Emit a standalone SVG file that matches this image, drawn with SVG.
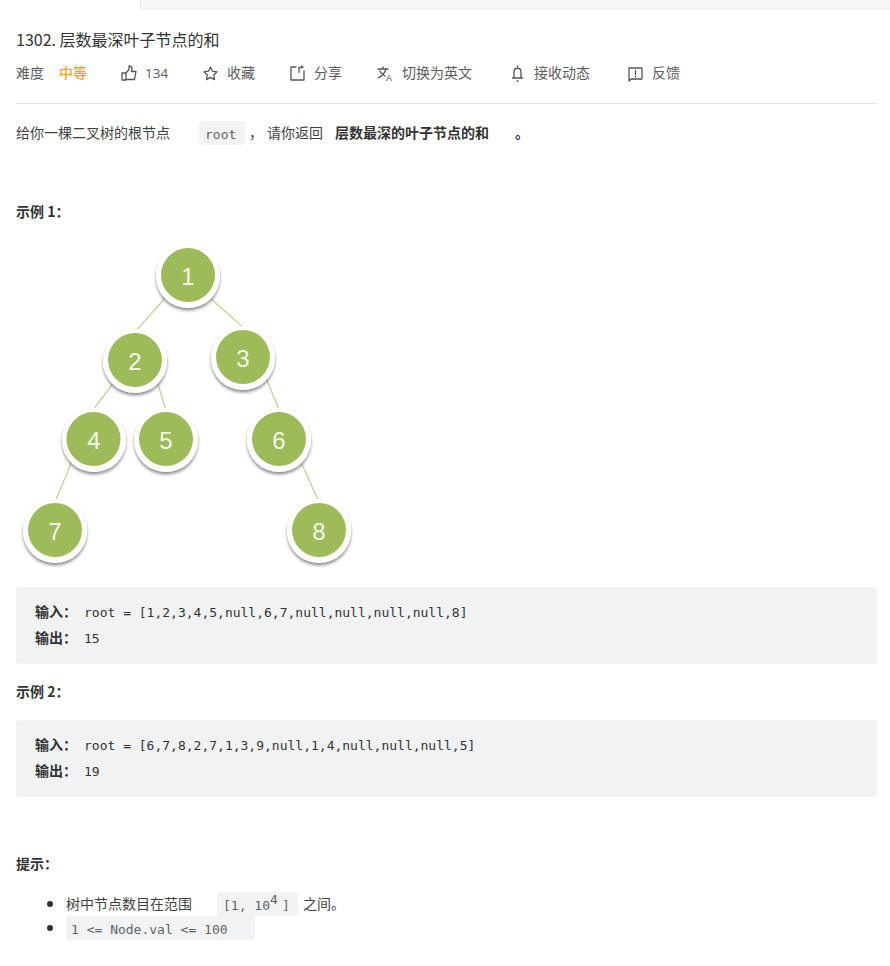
<svg xmlns="http://www.w3.org/2000/svg" width="890" height="966" viewBox="0 0 890 966">
<defs>
<filter id="sh" x="-30%" y="-30%" width="160%" height="170%"><feDropShadow dx="0" dy="2.5" stdDeviation="1.8" flood-color="#000" flood-opacity="0.45"/></filter>
</defs>
<style>
text{font-family:"Open Sans","Noto Sans CJK SC",sans-serif;fill:#4a4a4a}
.cjk{font-family:"Noto Sans CJK SC","Noto Sans",sans-serif}
.t{font-size:14px;fill:#5c5c5c}
.b{font-size:14px;font-weight:700;fill:#333}
.body{font-size:14px;fill:#424242}
.code{font-family:"DejaVu Sans Mono","Liberation Mono",monospace;font-size:13px;fill:#333}
.gcode{font-family:"DejaVu Sans Mono","Liberation Mono",monospace;font-size:13px;fill:#5f6368}
.pill{fill:#f2f3f5}
.box{fill:#f1f2f4}
.ic{fill:none;stroke:#555;stroke-width:1.3;stroke-linejoin:round;stroke-linecap:round}
.edge{stroke:#c5d69f;stroke-width:1.4;fill:none}
.halo{fill:#fff;filter:url(#sh)}
.disc{fill:#9dbb59}
.num{font-family:"Liberation Sans",sans-serif;font-size:24px;fill:#f4f8ea;text-anchor:middle}
</style>
<rect width="890" height="966" fill="#fff"/>
<rect x="140.500" y="-1" width="751" height="10" fill="#f7f7f7" stroke="#ececec"/>
<text class="cjk" x="16" y="46" font-size="16" style="fill:#333">1302. 层数最深叶子节点的和</text>
<g id="toolbar">
<text class="cjk t" x="16" y="78">难度</text>
<text class="cjk" x="59" y="78" font-size="14" font-weight="500" style="fill:#ffa116">中等</text>
<path class="ic" d="M122 73h4v7h-4zM126 73l3-3.500v-3.500c2 0 3 1 3 3l-.5 2.500h4.500l-1.500 8h-8.500"/>
<text class="t" x="145" y="78" style="font-size:13.500px">134</text>
<path class="ic" d="M210.500 67l2 4.200 4.500.6-3.300 3.200.8 4.600-4-2.200-4 2.200.8-4.600-3.300-3.200 4.500-.6z"/>
<text class="cjk t" x="227" y="78">收藏</text>
<path class="ic" d="M296 67h-5v13h13v-9M299 67.500h4l-1.500-1.500M299 67.500v5"/>
<text class="cjk t" x="314" y="78">分享</text>
<path class="ic" d="M378 69h10M383 67v2M386 69c-1 4-4 7-8 9M380 71c1 3 3 4 5 5"/>
<text x="386" y="81" font-size="9" style="fill:#555;font-family:'Liberation Sans',sans-serif">A</text>
<text class="cjk t" x="402" y="78">切换为英文</text>
<path class="ic" d="M514 78v-6c0-5 7-5 7 0v6M512.500 78h10M517.500 66v1M517 81h1"/>
<text class="cjk t" x="534" y="78">接收动态</text>
<path class="ic" d="M629 68h13v11h-11l-2 2zM635.500 70.500v4M635.500 76.500v.5"/>
<text class="cjk t" x="652" y="78">反馈</text>
</g>
<line x1="16" y1="103.500" x2="877" y2="103.500" stroke="#e6e6e6"/>
<text class="cjk body" x="16" y="138">给你一棵二叉树的根节点</text>
<rect class="pill" x="199" y="121" width="46" height="24" rx="4"/>
<text class="gcode" x="205" y="139">root</text>
<text class="cjk body" x="249" y="138">，</text>
<text class="cjk body" x="267" y="138">请你返回</text>
<text class="cjk b" x="335" y="138">层数最深的叶子节点的和</text>
<text class="cjk b" x="515" y="138">。</text>
<text class="cjk b" x="16" y="217">示例 1：</text>
<g id="connectors">
<line class="edge" x1="166" y1="297" x2="135" y2="332"/>
<line class="edge" x1="209" y1="297" x2="245" y2="329"/>
<line class="edge" x1="114" y1="382" x2="93" y2="410"/>
<line class="edge" x1="157" y1="381" x2="166" y2="410"/>
<line class="edge" x1="266" y1="378" x2="279" y2="410"/>
<line class="edge" x1="72" y1="461" x2="55" y2="502"/>
<line class="edge" x1="300" y1="460" x2="319" y2="502"/>
</g>
<g id="node-1"><circle class="halo" cx="188" cy="276" r="32"/><circle class="disc" cx="188" cy="275" r="27"/><text class="num" x="188" y="285">1</text></g>
<g id="node-2"><circle class="halo" cx="135" cy="361" r="32"/><circle class="disc" cx="135" cy="360" r="27"/><text class="num" x="135" y="370">2</text></g>
<g id="node-3"><circle class="halo" cx="243" cy="358" r="32"/><circle class="disc" cx="243" cy="357" r="27"/><text class="num" x="243" y="367">3</text></g>
<g id="node-4"><circle class="halo" cx="94" cy="440" r="32"/><circle class="disc" cx="93.500" cy="439" r="27"/><text class="num" x="94" y="449">4</text></g>
<g id="node-5"><circle class="halo" cx="166" cy="440" r="32"/><circle class="disc" cx="166" cy="439" r="27"/><text class="num" x="166" y="449">5</text></g>
<g id="node-6"><circle class="halo" cx="279" cy="440" r="32"/><circle class="disc" cx="279" cy="439" r="27"/><text class="num" x="279" y="449">6</text></g>
<g id="node-7"><circle class="halo" cx="55" cy="531" r="32"/><circle class="disc" cx="55" cy="530" r="27"/><text class="num" x="55" y="540">7</text></g>
<g id="node-8"><circle class="halo" cx="319" cy="531" r="32"/><circle class="disc" cx="319" cy="530" r="27"/><text class="num" x="319" y="540">8</text></g>
<rect class="box" x="16" y="587" width="861" height="77" rx="4"/>
<text class="cjk b" x="35" y="617">输入：</text>
<text class="code" x="84" y="617">root = [1,2,3,4,5,null,6,7,null,null,null,null,8]</text>
<text class="cjk b" x="35" y="643">输出：</text>
<text class="code" x="84" y="643">15</text>
<text class="cjk b" x="16" y="697">示例 2：</text>
<rect class="box" x="16" y="720" width="861" height="77" rx="4"/>
<text class="cjk b" x="35" y="750">输入：</text>
<text class="code" x="84" y="750">root = [6,7,8,2,7,1,3,9,null,1,4,null,null,null,5]</text>
<text class="cjk b" x="35" y="776">输出：</text>
<text class="code" x="84" y="776">19</text>
<text class="cjk b" x="16" y="869">提示：</text>
<circle cx="50" cy="904" r="3" fill="#333"/>
<text class="cjk body" x="66" y="909">树中节点数目在范围</text>
<rect class="pill" x="217" y="892" width="81" height="24" rx="4"/>
<text class="gcode" x="223" y="910">[1, 10</text>
<text class="gcode" x="270" y="904">4</text>
<text class="gcode" x="282" y="910">]</text>
<text class="cjk body" x="303" y="909">之间。</text>
<circle cx="50" cy="928" r="3" fill="#333"/>
<rect class="pill" x="66" y="916" width="189" height="24" rx="4"/>
<text class="gcode" x="71" y="934">1 &lt;= Node.val &lt;= 100</text>
</svg>
